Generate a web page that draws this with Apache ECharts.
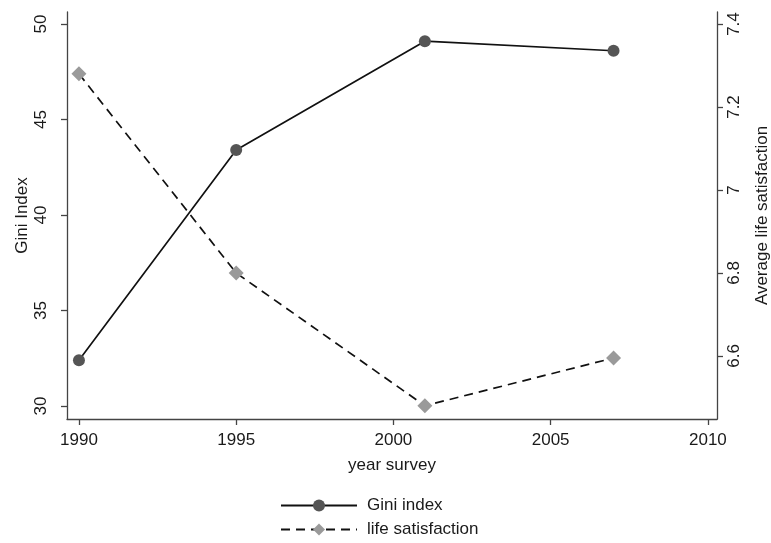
<!DOCTYPE html>
<html>
<head>
<meta charset="utf-8">
<script src="https://cdn.jsdelivr.net/npm/echarts@6/dist/echarts.min.js"></script>
<style>html,body{margin:0;padding:0;background:#fff}#c{width:771px;height:543px}</style>
</head>
<body>
<div id="c"></div>
<script>
const years = [1990, 1995, 2001, 2007];
const giniIndex = [32.4, 43.4, 49.1, 48.6];
const lifeSatisfaction = [7.28, 6.80, 6.48, 6.595];
const xTicks = [1990, 1995, 2000, 2005, 2010];
const giniTicks = [30, 35, 40, 45, 50];
const lifeTicks = [6.6, 6.8, 7, 7.2, 7.4];

const FONT = 'Liberation Sans, Arial, sans-serif';
const TXT = '#1a1a1a';
const AX = '#444';

const chart = echarts.init(document.getElementById('c'), null, {renderer: 'canvas'});
chart.setOption({
  backgroundColor: '#fff',
  animation: false,
  textStyle: {fontFamily: FONT, color: TXT},
  grid: {left: 67, right: 54, top: 12, bottom: 124, containLabel: false, outerBoundsMode: 'none'},
  legend: {
    orient: 'vertical', left: 280, top: 497, padding: 0, itemWidth: 76, itemHeight: 15, itemGap: 7,
    textStyle: {fontSize: 17, color: TXT, fontFamily: FONT, padding: [0, 0, 0, 5]},
    data: ['Gini index', 'life satisfaction']
  },
  xAxis: {
    type: 'value', min: 1989.62, max: 2010.29,
    name: 'year survey', nameLocation: 'middle', nameGap: 38, nameMoveOverlap: false,
    nameTextStyle: {fontSize: 17, color: TXT, fontFamily: FONT},
    splitLine: {show: false},
    axisLine: {show: true, lineStyle: {color: AX, width: 1.3}},
    axisTick: {show: true, length: 6, lineStyle: {color: AX, width: 1.3}, customValues: xTicks},
    axisLabel: {fontSize: 17, color: TXT, margin: 13, customValues: xTicks, fontFamily: FONT,
      formatter: v => String(Math.round(v))}
  },
  yAxis: [
    {
      type: 'value', min: 29.32, max: 50.63, position: 'left',
      name: 'Gini Index', nameLocation: 'middle', nameGap: 36, nameRotate: 90, nameMoveOverlap: false,
      nameTextStyle: {fontSize: 17, color: TXT, fontFamily: FONT},
      splitLine: {show: false},
      axisLine: {show: true, lineStyle: {color: AX, width: 1.3}},
      axisTick: {show: true, length: 6, lineStyle: {color: AX, width: 1.3}, customValues: giniTicks},
      axisLabel: {fontSize: 17, color: TXT, rotate: 90, margin: 17, customValues: giniTicks, fontFamily: FONT}
    },
    {
      type: 'value', min: 6.448, max: 7.429, position: 'right',
      name: 'Average life satisfaction', nameLocation: 'middle', nameGap: 37, nameRotate: 90, nameMoveOverlap: false,
      nameTextStyle: {fontSize: 17, color: TXT, fontFamily: FONT},
      splitLine: {show: false},
      axisLine: {show: true, lineStyle: {color: AX, width: 1.3}},
      axisTick: {show: true, length: 6, lineStyle: {color: AX, width: 1.3}, customValues: lifeTicks},
      axisLabel: {fontSize: 17, color: TXT, rotate: 90, margin: 9, customValues: lifeTicks, fontFamily: FONT}
    }
  ],
  series: [
    {
      name: 'Gini index', type: 'line', yAxisIndex: 0,
      data: years.map((y, i) => [y, giniIndex[i]]),
      symbol: 'circle', symbolSize: 12,
      lineStyle: {color: '#111', width: 1.7, type: 'solid'},
      itemStyle: {color: '#555', borderWidth: 0}
    },
    {
      name: 'life satisfaction', type: 'line', yAxisIndex: 1,
      data: years.map((y, i) => [y, lifeSatisfaction[i]]),
      symbol: 'diamond', symbolSize: 15,
      lineStyle: {color: '#111', width: 1.7, type: [9, 6]},
      itemStyle: {color: '#9a9a9a', borderWidth: 0}
    }
  ]
});
</script>
</body>
</html>
